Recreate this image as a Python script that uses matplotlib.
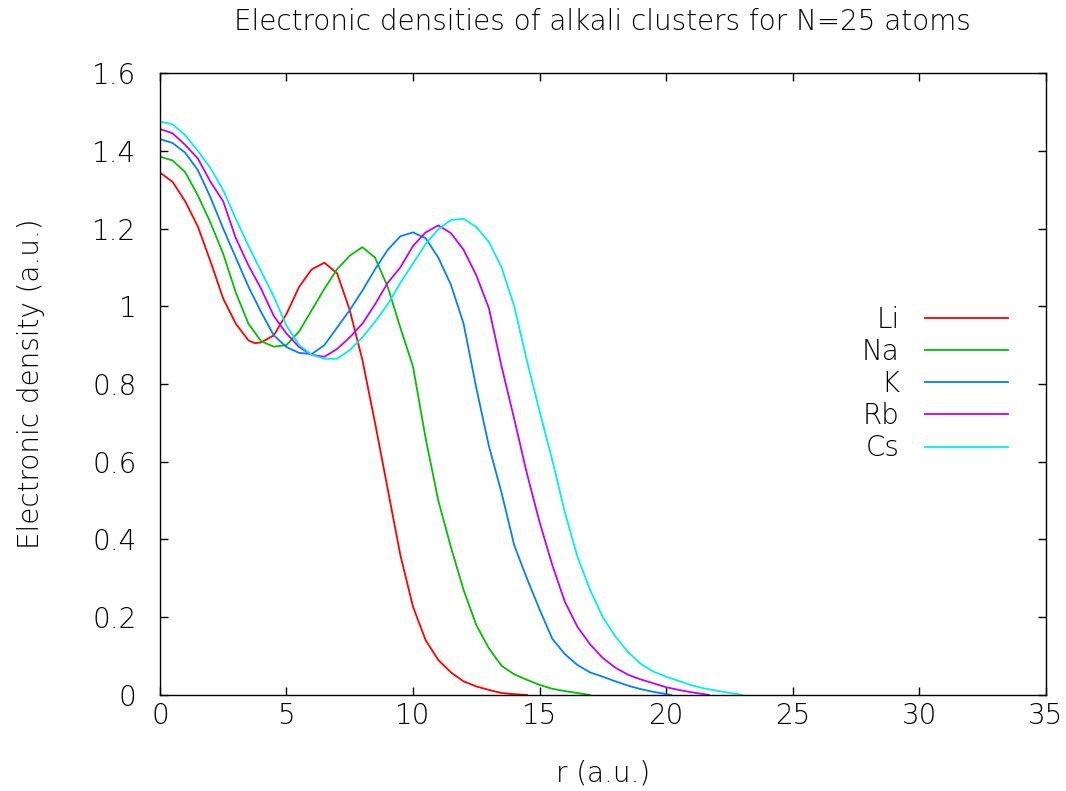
import numpy as np
import matplotlib
matplotlib.use('Agg')
import matplotlib.pyplot as plt

# radial grid (a.u.) and densities
r_li = [0, 0.5, 1, 1.5, 2, 2.5, 3, 3.5, 3.75, 4, 4.5, 5, 5.5, 6, 6.5, 7, 7.5, 8, 8.5,
        9, 9.5, 10, 10.5, 11, 11.5, 12, 12.5, 13, 13.5, 14, 14.5]
d_li = [1.344, 1.32, 1.27, 1.205, 1.115, 1.02, 0.955, 0.912, 0.905, 0.907, 0.925, 0.98,
        1.05, 1.095, 1.112, 1.085, 0.99, 0.862, 0.70, 0.53, 0.36, 0.227, 0.141, 0.09,
        0.058, 0.035, 0.022, 0.013, 0.005, 0.002, 0.0]

r_na = [0, 0.5, 1, 1.5, 2, 2.5, 3, 3.5, 4, 4.5, 5, 5.5, 6, 6.5, 7, 7.5, 8, 8.5, 9, 9.5,
        10, 10.5, 11, 11.5, 12, 12.5, 13, 13.5, 14, 14.5, 15, 15.5, 16, 17]
d_na = [1.385, 1.375, 1.345, 1.285, 1.215, 1.135, 1.035, 0.955, 0.91, 0.896, 0.9, 0.935,
        0.99, 1.045, 1.095, 1.13, 1.152, 1.125, 1.05, 0.945, 0.845, 0.66, 0.50, 0.38,
        0.27, 0.18, 0.12, 0.075, 0.053, 0.039, 0.026, 0.016, 0.01, 0.0]

r_k = [0, 0.5, 1, 1.5, 2, 2.5, 3, 3.5, 4, 4.5, 5, 5.5, 6, 6.5, 7, 7.5, 8, 8.5, 9, 9.5,
       10, 10.5, 11, 11.5, 12, 12.5, 13, 13.5, 14, 14.5, 15, 15.5, 16, 16.5, 17, 17.5,
       18, 18.5, 19, 19.5, 20.2]
d_k = [1.43, 1.42, 1.395, 1.35, 1.28, 1.20, 1.125, 1.05, 0.985, 0.925, 0.895, 0.88,
       0.877, 0.9, 0.945, 0.99, 1.04, 1.095, 1.145, 1.18, 1.19, 1.175, 1.125, 1.055,
       0.955, 0.79, 0.64, 0.52, 0.385, 0.30, 0.22, 0.145, 0.105, 0.077, 0.058, 0.047,
       0.035, 0.024, 0.015, 0.008, 0.0]

r_rb = [0, 0.5, 1, 1.5, 2, 2.5, 3, 3.5, 4, 4.5, 5, 5.5, 6, 6.5, 7, 7.5, 8, 8.5, 9, 9.5,
        10, 10.5, 11, 11.5, 12, 12.5, 13, 13.5, 14, 14.5, 15, 15.5, 16, 16.5, 17, 17.5,
        18, 18.5, 19, 19.5, 20, 20.5, 21, 21.7]
d_rb = [1.456, 1.445, 1.415, 1.38, 1.32, 1.27, 1.175, 1.105, 1.045, 0.975, 0.93, 0.895,
        0.875, 0.87, 0.89, 0.92, 0.955, 1.005, 1.06, 1.10, 1.155, 1.19, 1.208, 1.188,
        1.145, 1.08, 0.995, 0.845, 0.71, 0.57, 0.445, 0.335, 0.24, 0.175, 0.13, 0.095,
        0.07, 0.052, 0.04, 0.03, 0.02, 0.013, 0.007, 0.0]

r_cs = [0, 0.5, 1, 1.5, 2, 2.5, 3, 3.5, 4, 4.5, 5, 5.5, 6, 6.5, 7, 7.5, 8, 8.5, 9, 9.5,
        10, 10.5, 11, 11.5, 12, 12.5, 13, 13.5, 14, 14.5, 15, 15.5, 16, 16.5, 17, 17.5,
        18, 18.5, 19, 19.5, 20, 20.5, 21, 21.5, 22, 23]
d_cs = [1.475, 1.468, 1.44, 1.40, 1.355, 1.299, 1.225, 1.155, 1.09, 1.025, 0.95, 0.90,
        0.875, 0.865, 0.865, 0.887, 0.92, 0.96, 1.005, 1.06, 1.11, 1.16, 1.198, 1.222,
        1.225, 1.204, 1.165, 1.10, 1.0, 0.86, 0.73, 0.605, 0.47, 0.355, 0.27, 0.20,
        0.15, 0.11, 0.08, 0.06, 0.047, 0.036, 0.025, 0.017, 0.011, 0.0]

series = [('Li', r_li, d_li, '#ff0000'),
          ('Na', r_na, d_na, '#00c000'),
          ('K', r_k, d_k, '#0080ff'),
          ('Rb', r_rb, d_rb, '#c000ff'),
          ('Cs', r_cs, d_cs, '#00eeee')]

fs = 20
txt = '#000000'
plt.rcParams['font.weight'] = 'light'
plt.rcParams['axes.titleweight'] = 'light'
plt.rcParams['axes.labelweight'] = 'light'

fig = plt.figure(figsize=(10.66, 7.91), dpi=100)
ax = fig.add_axes([0.150, 0.1214, 0.831, 0.7863])

for name, r, d, c in series:
    ax.plot(r, d, color=c, lw=1.3, label=name)

ax.set_xlim(0, 35)
ax.set_ylim(0, 1.6)
ax.set_xticks(np.arange(0, 36, 5))
ax.set_yticks(np.arange(0, 1.61, 0.2))
ax.yaxis.set_major_formatter(plt.FuncFormatter(lambda v, p: '%g' % round(v, 2)))
ax.tick_params(direction='in', length=6, width=1, top=True, right=True,
               labelsize=fs, labelcolor=txt)
ax.tick_params(axis='x', pad=5)
ax.tick_params(axis='y', pad=17)
for s in ax.spines.values():
    s.set_linewidth(1.0)

ax.set_title('Electronic densities of alkali clusters for N=25 atoms',
             fontsize=fs, color=txt, pad=31)
ax.set_xlabel('r (a.u.)', fontsize=fs, color=txt, labelpad=21)
ax.set_ylabel('Electronic density (a.u.)', fontsize=fs, color=txt, labelpad=34)

leg = ax.legend(loc='center right', bbox_to_anchor=(0.97, 0.5), frameon=False,
                borderaxespad=0, markerfirst=False, fontsize=fs, handlelength=3.0,
                handletextpad=0.9, labelspacing=0.15)
for t in leg.get_texts():
    t.set_color(txt)

plt.savefig('out.png', dpi=100)
